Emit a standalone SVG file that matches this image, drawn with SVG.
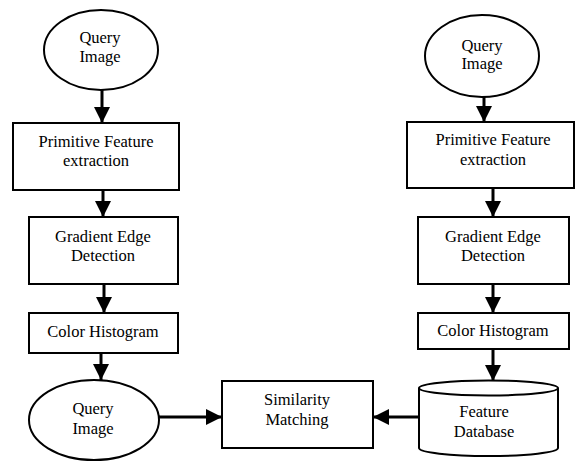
<svg xmlns="http://www.w3.org/2000/svg" width="576" height="463" viewBox="0 0 576 463">
<style>
.s{fill:#fff;stroke:#000;stroke-width:2}
.t{font-family:"Liberation Serif","Times New Roman","DejaVu Serif",serif;font-size:16.5px;fill:#000;text-anchor:middle}
.c{stroke:#000;stroke-width:3;fill:none}
</style>
<defs>
<marker id="ah" markerUnits="userSpaceOnUse" markerWidth="16" markerHeight="16" refX="16" refY="8" orient="auto" viewBox="0 0 16 16">
<path d="M0,0 L16,8 L0,16 z" fill="#000"/>
</marker>
</defs>
<rect width="576" height="463" fill="#fff"/>
<g id="connectors">
<line class="c" x1="102" y1="90" x2="102" y2="123" marker-end="url(#ah)"/>
<line class="c" x1="103" y1="190" x2="103" y2="217" marker-end="url(#ah)"/>
<line class="c" x1="104" y1="284" x2="104" y2="313" marker-end="url(#ah)"/>
<line class="c" x1="101" y1="353" x2="101" y2="380" marker-end="url(#ah)"/>
<line class="c" x1="159" y1="417" x2="222" y2="417" marker-end="url(#ah)"/>
<line class="c" x1="419" y1="417" x2="373" y2="417" marker-end="url(#ah)"/>
<line class="c" x1="484" y1="97" x2="484" y2="122" marker-end="url(#ah)"/>
<line class="c" x1="493" y1="188" x2="493" y2="217" marker-end="url(#ah)"/>
<line class="c" x1="493" y1="284" x2="493" y2="313" marker-end="url(#ah)"/>
<line class="c" x1="493" y1="349" x2="493" y2="381" marker-end="url(#ah)"/>
</g>
<g id="query-image-left">
<ellipse class="s" cx="101" cy="50" rx="57" ry="40"/>
<text class="t" x="100" y="43">Query</text>
<text class="t" x="100" y="62">Image</text>
</g>
<g id="primitive-left">
<rect class="s" x="13" y="123" width="166" height="67"/>
<text class="t" x="96" y="147">Primitive Feature</text>
<text class="t" x="96" y="166">extraction</text>
</g>
<g id="gradient-left">
<rect class="s" x="29" y="217" width="149" height="67"/>
<text class="t" x="103" y="242">Gradient Edge</text>
<text class="t" x="103" y="261">Detection</text>
</g>
<g id="histogram-left">
<rect class="s" x="29" y="313" width="149" height="40"/>
<text class="t" x="103" y="337">Color Histogram</text>
</g>
<g id="query-image-bottom">
<ellipse class="s" cx="94" cy="420" rx="65" ry="40"/>
<text class="t" x="93" y="414">Query</text>
<text class="t" x="93" y="434">Image</text>
</g>
<g id="similarity">
<rect class="s" x="222" y="381" width="151" height="67"/>
<text class="t" x="297" y="405">Similarity</text>
<text class="t" x="297" y="425">Matching</text>
</g>
<g id="feature-database">
<path class="s" d="M419,388 L419,448 A69.5,8 0 0 0 558,448 L558,388"/>
<ellipse class="s" cx="488.5" cy="388" rx="69.5" ry="7.5"/>
<text class="t" x="484" y="417">Feature</text>
<text class="t" x="484" y="437">Database</text>
</g>
<g id="query-image-right">
<ellipse class="s" cx="482" cy="56" rx="57" ry="41"/>
<text class="t" x="482" y="51">Query</text>
<text class="t" x="482" y="69">Image</text>
</g>
<g id="primitive-right">
<rect class="s" x="407" y="122" width="167" height="66"/>
<text class="t" x="493" y="145">Primitive Feature</text>
<text class="t" x="493" y="165">extraction</text>
</g>
<g id="gradient-right">
<rect class="s" x="418" y="217" width="151" height="67"/>
<text class="t" x="493" y="242">Gradient Edge</text>
<text class="t" x="493" y="261">Detection</text>
</g>
<g id="histogram-right">
<rect class="s" x="418" y="313" width="151" height="36"/>
<text class="t" x="493" y="336">Color Histogram</text>
</g>
</svg>
